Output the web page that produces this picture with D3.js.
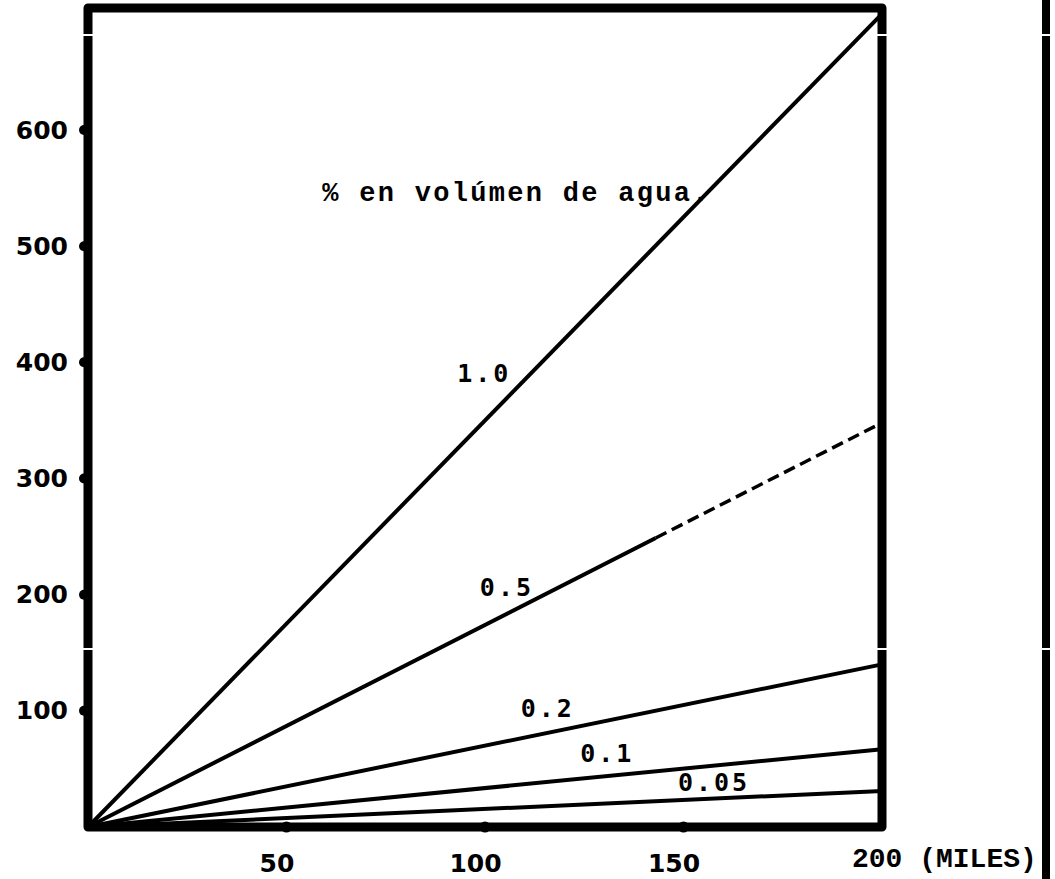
<!doctype html>
<html lang="en">
<head>
<meta charset="utf-8">
<title>% en volumen de agua</title>
<script src="https://d3js.org/d3.v7.min.js"></script>
<style>
  body { margin: 0; background: #fff; }
  svg { display: block; }
</style>
</head>
<body>
<svg id="chart" width="1055" height="879"></svg>
<script>
// values
var seriesNames = ["1.0", "0.5", "0.2", "0.1", "0.05"];
var seriesEnds = [700, 348, 140, 67, 31];   // value at 200 miles
var dashedFrom = [null, 143, null, null, null]; // 0.5 curve is extrapolated (dashed) past ~143
var xTicks = [50, 100, 150];
var yTicks = [100, 200, 300, 400, 500, 600];
var xMax = 200, yTop = 705;

var svg = d3.select("#chart");
svg.append("rect").attr("width", 1055).attr("height", 879).attr("fill", "#fff");

var x = d3.scaleLinear().domain([0, xMax]).range([88, 882]);
var y = d3.scaleLinear().domain([0, 600]).range([827, 130]);

var line = d3.line().x(function(d) { return x(d[0]); }).y(function(d) { return y(d[1]); });

// series lines, all from the origin
seriesNames.forEach(function(name, i) {
  var end = seriesEnds[i];
  var brk = dashedFrom[i];
  if (brk === null) {
    svg.append("path").attr("d", line([[0, 0], [xMax, end]]))
      .attr("fill", "none").attr("stroke", "#000").attr("stroke-width", 4);
  } else {
    var mid = [brk, end * brk / xMax];
    svg.append("path").attr("d", line([[0, 0], mid]))
      .attr("fill", "none").attr("stroke", "#000").attr("stroke-width", 4);
    svg.append("path").attr("d", line([mid, [xMax, end]]))
      .attr("fill", "none").attr("stroke", "#000").attr("stroke-width", 3.5)
      .attr("stroke-dasharray", "12,6");
  }
});

// frame
svg.append("path")
  .attr("d", "M" + x(0) + "," + y(0) + "V" + y(yTop) + "H" + x(xMax) + "V" + y(0) + "Z")
  .attr("fill", "none").attr("stroke", "#000").attr("stroke-width", 9)
  .attr("stroke-linejoin", "round");

// second rule on the right of the page
svg.append("line").attr("x1", 1046).attr("x2", 1046).attr("y1", 0).attr("y2", 879)
  .attr("stroke", "#000").attr("stroke-width", 8);

// page fold breaks, visible only across the vertical rules
[35, 649].forEach(function(fy) {
  [x(0), x(xMax), 1046].forEach(function(rx) {
    svg.append("rect").attr("x", rx - 6).attr("y", fy - 1).attr("width", 12).attr("height", 2)
      .attr("fill", "#fff");
  });
});

// y axis
var yAxis = svg.append("g").attr("transform", "translate(" + (x(0) - 20) + ",0)")
  .call(d3.axisLeft(y).tickValues(yTicks).tickSize(0).tickPadding(0));
yAxis.select(".domain").remove();
yAxis.selectAll("text")
  .attr("font-family", "DejaVu Sans").attr("font-weight", "bold").attr("font-size", 25)
  .attr("fill", "#000");

svg.selectAll(".ydot").data(yTicks).join("circle")
  .attr("cx", x(0) - 4).attr("cy", function(d) { return y(d); }).attr("r", 5).attr("fill", "#000");

// x axis
var xAxis = svg.append("g").attr("transform", "translate(-10," + (y(0) + 27) + ")")
  .call(d3.axisBottom(x).tickValues(xTicks).tickSize(0).tickPadding(0));
xAxis.select(".domain").remove();
xAxis.selectAll("text")
  .attr("font-family", "DejaVu Sans").attr("font-weight", "bold").attr("font-size", 25)
  .attr("fill", "#000");

svg.selectAll(".xdot").data(xTicks).join("circle")
  .attr("cx", function(d) { return x(d); }).attr("cy", y(0)).attr("r", 5.5).attr("fill", "#000");

svg.append("text").attr("x", 852).attr("y", 867)
  .attr("font-family", "Liberation Mono").attr("font-weight", "bold").attr("font-size", 28)
  .attr("fill", "#000").text("200 (MILES)");

// curve labels
var labelPos = [[93, 383], [98.7, 199], [109, 95], [124, 56], [148.6, 31]];
seriesNames.forEach(function(name, i) {
  svg.append("text").attr("x", x(labelPos[i][0])).attr("y", y(labelPos[i][1]))
    .attr("font-family", "DejaVu Sans Mono").attr("font-weight", "bold").attr("font-size", 25)
    .attr("letter-spacing", 3).attr("fill", "#000").text(name);
});

// title
svg.append("text").attr("x", x(59)).attr("y", y(539))
  .attr("font-family", "Liberation Mono").attr("font-weight", "bold").attr("font-size", 27)
  .attr("letter-spacing", 2.3).attr("fill", "#000").text("% en volúmen de agua.");
</script>
</body>
</html>
